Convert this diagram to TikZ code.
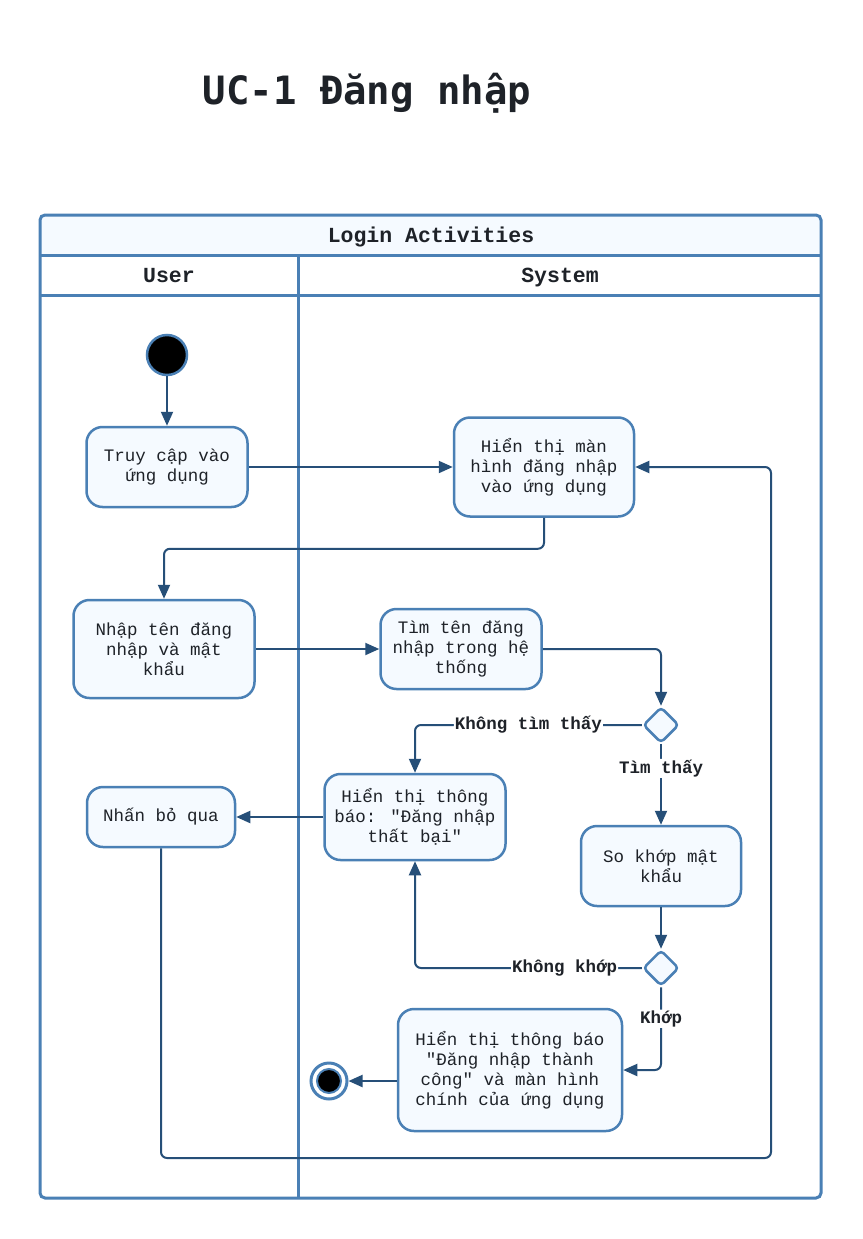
\documentclass[tikz,border=0pt]{standalone}
\usepackage{fontspec}
\usetikzlibrary{arrows.meta,shapes.geometric,calc}
\newfontfamily\bodyfam{Liberation Mono}
\newfontfamily\labfam{Liberation Mono}
\newfontfamily\titlefam{DejaVu Sans Mono}
\definecolor{nodeb}{RGB}{74,128,181}
\definecolor{nodef}{RGB}{245,250,255}
\definecolor{linec}{RGB}{38,79,120}
\definecolor{txt}{RGB}{30,34,40}
\begin{document}
\begin{tikzpicture}[x=1pt,y=-1pt,
  act/.style={draw=nodeb, fill=nodef, line width=2.5pt, rounded corners=16pt, align=center,
    font=\bodyfam\fontsize{17.5}{20}\selectfont, text=txt, inner sep=0pt},
  dec/.style={diamond, draw=nodeb, fill=nodef, line width=2.5pt, minimum width=36pt, minimum height=36pt, inner sep=0pt, rounded corners=4pt},
  conn/.style={draw=linec, line width=2pt, rounded corners=6pt, -{Triangle[length=14pt,width=12pt]}},
  lab/.style={fill=white, inner sep=1pt, text=txt, font=\labfam\bfseries\fontsize{17.5}{20}\selectfont},
  hdr/.style={text=txt, font=\labfam\bfseries\fontsize{21.5}{24}\selectfont, inner sep=0pt, anchor=base},
  lanel/.style={draw=nodeb, line width=3pt}]
\useasboundingbox (0,0) rectangle (862,1239);
\node[text=txt, font=\titlefam\bfseries\fontsize{39}{44}\selectfont, anchor=base] (title) at (367,104) {UC-1 Đăng nhập};
% pool
\path[fill=white, rounded corners=5pt] (40,215) rectangle (821,1198);
\fill[nodef, rounded corners=5pt] (40,255) -- (40,215) -- (821,215) -- (821,255) -- cycle;
\draw[lanel] (40,255) -- (821,255);
\draw[lanel] (40,295) -- (821,295);
\draw[lanel] (298,255) -- (298,1198);
\draw[lanel, rounded corners=5pt] (40,215) rectangle (821,1198);
\node[hdr] (pooltitle) at (431,242) {Login Activities};
\node[hdr] (laneuser) at (169,282) {User};
\node[hdr] (lanesys) at (560,282) {System};
% nodes
\node[circle, draw=nodeb, fill=black, line width=2.5pt, minimum size=40pt, inner sep=0pt] (start) at (167,355) {};
\node[act, minimum width=161pt, minimum height=80pt] (truy) at (167,467) {Truy cập vào\\ứng dụng};
\node[act, minimum width=180pt, minimum height=99pt] (hien) at (544,467) {Hiển thị màn\\hình đăng nhập\\vào ứng dụng};
\node[act, minimum width=181pt, minimum height=98pt] (nhap) at (164,649) {Nhập tên đăng\\nhập và mật\\khẩu};
\node[act, minimum width=161pt, minimum height=80pt] (tim) at (461,649) {Tìm tên đăng\\nhập trong hệ\\thống};
\node[dec] (d1) at (661,725) {};
\node[act, minimum width=181pt, minimum height=86pt] (fail) at (415,817) {Hiển thị thông\\báo: "Đăng nhập\\thất bại"};
\node[act, minimum width=148pt, minimum height=60pt] (skip) at (161,817) {Nhấn bỏ qua};
\node[act, minimum width=160pt, minimum height=80pt] (so) at (661,866) {So khớp mật\\khẩu};
\node[dec] (d2) at (661,968) {};
\node[act, minimum width=224pt, minimum height=122pt] (ok) at (510,1070) {Hiển thị thông báo\\"Đăng nhập thành\\công" và màn hình\\chính của ứng dụng};
\node[circle, draw=nodeb, fill=white, line width=3pt, minimum size=36pt, inner sep=0pt] (endo) at (329,1081) {};
\node[circle, draw=nodeb, fill=black, line width=2pt, minimum size=24pt, inner sep=0pt] (endi) at (329,1081) {};
\coordinate (loopc) at (771,1158);
% connectors
\draw[conn] (start) -- (truy);
\draw[conn] (truy.east) -- (hien.west);
\draw[conn] (hien.south) -- ++(0,31) -| (nhap.north);
\draw[conn] (nhap.east) -- (tim.west);
\draw[conn] (tim.east) -| (d1.north);
\draw[conn] (d1.west) -| (fail.north) node[lab, pos=0.25] {Không tìm thấy};
\draw[conn] (d1.south) -- (so.north) node[lab, pos=0.3] {Tìm thấy};
\draw[conn] (fail.west) -- (skip.east);
\draw[conn] (so.south) -- (d2.north);
\draw[conn] (d2.west) -| (fail.south) node[lab, pos=0.17] {Không khớp};
\draw[conn] (d2.south) |- (ok.east) node[lab, pos=0.19] {Khớp};
\draw[conn] (ok.west |- endo) -- (endo.east);
\draw[conn] (skip.south) |- (loopc) |- (hien.east);
\end{tikzpicture}
\end{document}
